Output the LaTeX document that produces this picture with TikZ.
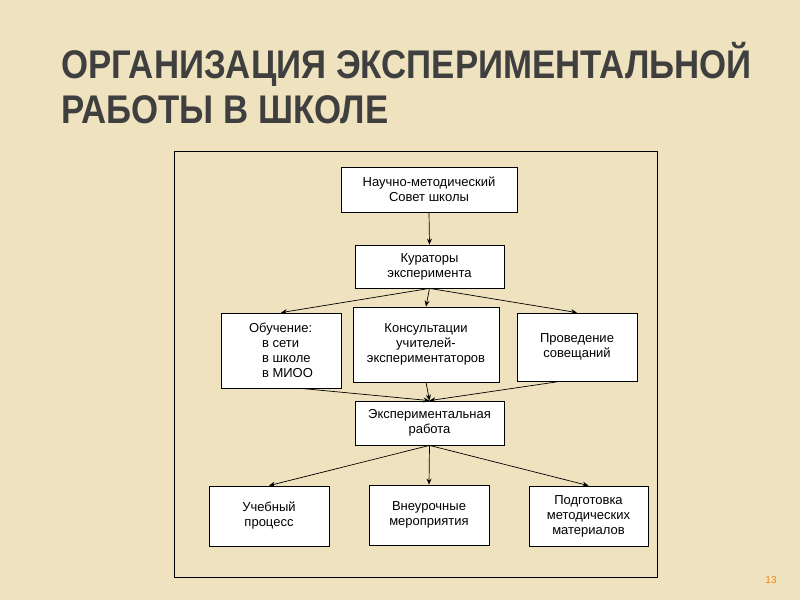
\documentclass[tikz,border=0pt]{standalone}
\usepackage{fontspec}
\setmainfont{Liberation Sans}
\usetikzlibrary{arrows.meta}
\definecolor{parch}{HTML}{EEE3BE}
\definecolor{titlegray}{HTML}{3F3F3F}
\tikzset{
  box/.style={draw=black, fill=white, line width=0.8pt, align=center,
              font=\fontsize{13}{15}\selectfont, inner sep=0pt},
  link/.style={-{Stealth[length=6pt,width=5pt]}, line width=0.7pt}
}
\begin{document}
\begin{tikzpicture}[x=1pt,y=-1pt]
    % background
    \fill[parch] (0,0) rectangle (800,600);
    \useasboundingbox (0,0) rectangle (800,600);
    % title
    \node[anchor=west, text=titlegray, font=\fontsize{40}{44}\selectfont\bfseries,
          xscale=0.87, transform shape] (t1) at (58,64) {ОРГАНИЗАЦИЯ ЭКСПЕРИМЕНТАЛЬНОЙ};
    \node[anchor=west, text=titlegray, font=\fontsize{40}{44}\selectfont\bfseries,
          xscale=0.87, transform shape] (t2) at (58,110) {РАБОТЫ В ШКОЛЕ};
    % frame
    \draw[line width=0.8pt] (174,151) rectangle (657,577);
    % boxes
    \node[box, minimum width=176, minimum height=45] (sovet) at (429,189.5) {Научно-методический\\Совет школы};
    \node[box, minimum width=149, minimum height=43] (kur) at (429.5,266.5) {Кураторы\\эксперимента};
    \node[box, minimum width=120, minimum height=75, align=left] (obuch) at (281,350.5) {Обучение:\\\quad в сети\\\quad в школе\\\quad в МИОО};
    \node[box, minimum width=146, minimum height=75] (kons) at (426,344.5) {Консультации\\учителей-\\экспериментаторов};
    \node[box, minimum width=120, minimum height=68] (sov) at (577,347) {Проведение\\совещаний};
    \node[box, minimum width=149, minimum height=44] (exp) at (429.5,423) {Экспериментальная\\работа};
    \node[box, minimum width=120, minimum height=60] (uch) at (269,516) {Учебный\\процесс};
    \node[box, minimum width=120, minimum height=60] (vne) at (429,515) {Внеурочные\\мероприятия};
    \node[box, minimum width=119, minimum height=60] (pod) at (588.5,516) {Подготовка\\методических\\материалов};
    % arrows
    \draw[link] (sovet.south) -- (kur.north);
    \draw[link] (kur.south) -- (obuch.north);
    \draw[link] (kur.south) -- (kons.north);
    \draw[link] (kur.south) -- (sov.north);
    \draw[link] (obuch.south) ++(20,0) -- (exp.north);
    \draw[link] (kons.south) -- (exp.north);
    \draw[link] (sov.south) ++(-17,0) -- (exp.north);
    \draw[link] (exp.south) -- (uch.north);
    \draw[link] (exp.south) -- (vne.north);
    \draw[link] (exp.south) -- (pod.north);
    % page number
    \node[text=orange!80!brown, font=\fontsize{10}{12}\selectfont] (num) at (771,580) {13};
\end{tikzpicture}
\end{document}
